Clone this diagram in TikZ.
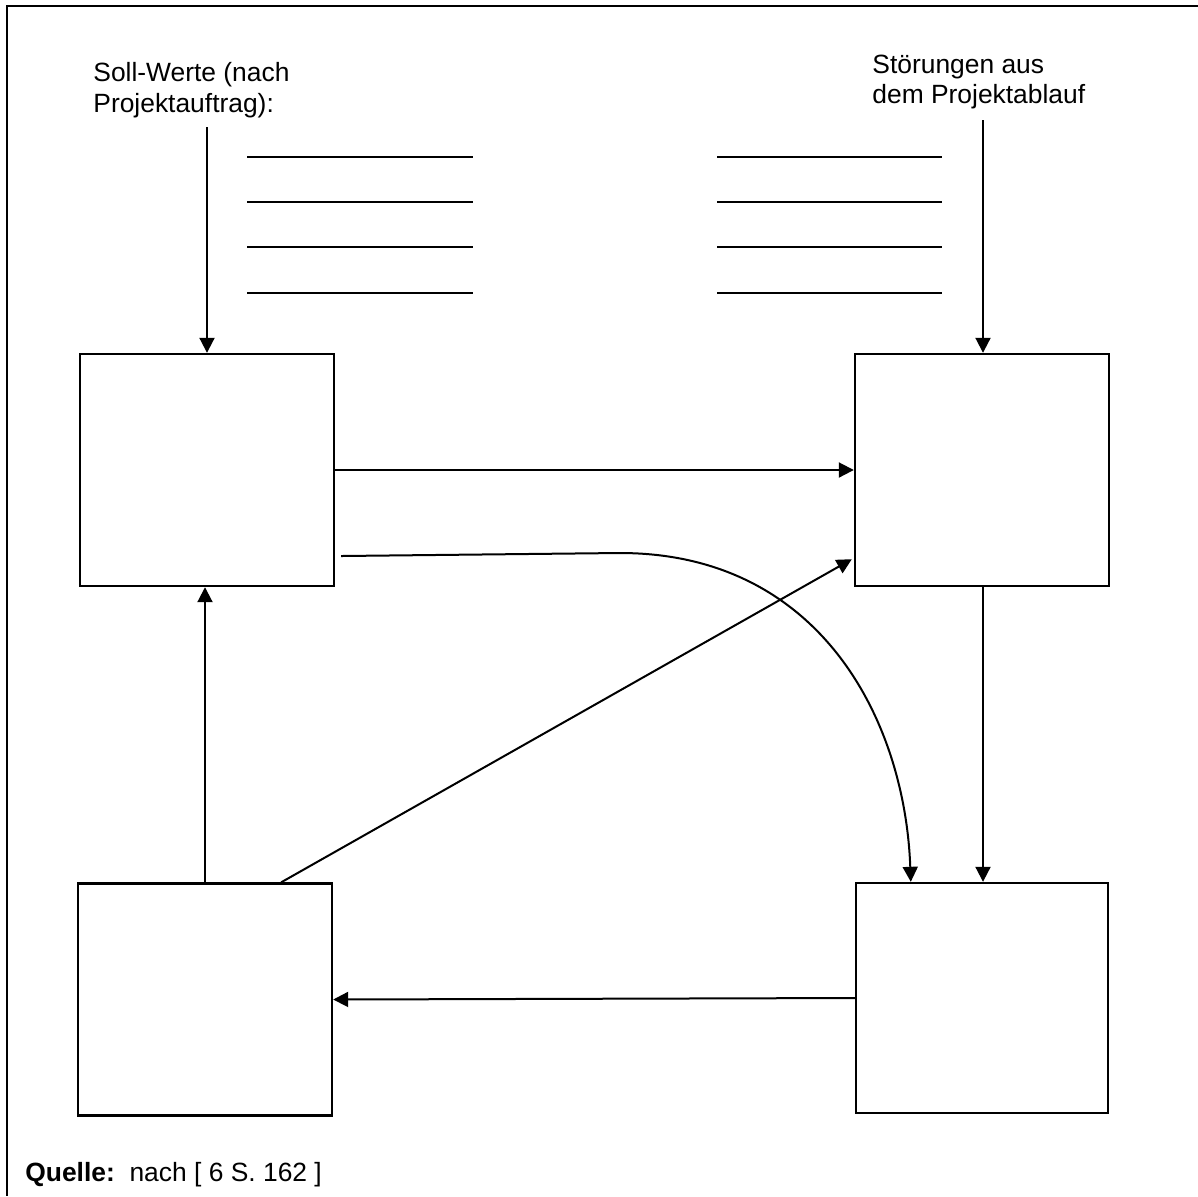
\documentclass[tikz,border=0pt]{standalone}
\usepackage{fontspec}
\setmainfont{Liberation Sans}
\usetikzlibrary{arrows.meta,calc}
\begin{document}
\begin{tikzpicture}[x=0.5pt,y=-0.5pt,
  blk/.style={draw,line width=1.2pt,rectangle,inner sep=0pt,minimum width=127pt,minimum height=116pt},
  con/.style={line width=1pt,-{Triangle[length=7.5pt,width=7.5pt]}},
  blank/.style={line width=0.8pt},
  lbl/.style={anchor=base west,inner sep=0pt,font=\fontsize{13.2}{16}\selectfont}]
\useasboundingbox (0,0) rectangle (1198,1196);
\draw[line width=1.1pt] (1198,6) -- (7,6) -- (7,1196);
% boxes
\node[blk] (tl) at (207,470) {};
\node[blk] (tr) at (982,470) {};
\node[blk] (bl) at (205,999.5) {};
\node[blk,minimum width=126pt,minimum height=115pt] (br) at (982,998) {};
% texts
\node[lbl] (t1) at (93,81) {Soll-Werte (nach};
\node[lbl] (t2) at (93,112) {Projektauftrag):};
\node[lbl] (t3) at (872,73) {Störungen aus};
\node[lbl] (t4) at (872,103) {dem Projektablauf};
\node[lbl] (q) at (25,1181) {\textbf{Quelle:}\ \ nach [ 6 S. 162 ]};
% blank lines
\foreach \yy in {157,202,247,293}{
  \draw[blank] (247,\yy) -- (473,\yy);
  \draw[blank] (717,\yy) -- (942,\yy);
}
% inputs
\coordinate (s1) at (207,127);
\coordinate (s2) at (983,120);
\draw[con] (s1) -- (tl.north);
\draw[con] (s2) -- (tr.north -| s2);
% connectors
\draw[con] (tl.east) -- (tr.west);
\draw[con] (tr.south -| s2) -- (br.north -| s2);
\draw[con] (br.west) -- (bl.east);
\draw[con] (bl.north) -- (tl.south -| bl.north);
\coordinate (c0) at ($(tl.east)+(6,86)$);
\coordinate (c1) at ($(br.north west)+(56,0)$);
\draw[con] (c0) -- (620,553) .. controls (820,553) and (905,720) .. (c1);
\coordinate (d0) at ($(bl.north east)+(-52,0)$);
\coordinate (d1) at ($(tr.south west)+(-2,-28)$);
\draw[con] (d0) -- (d1);
\end{tikzpicture}
\end{document}
